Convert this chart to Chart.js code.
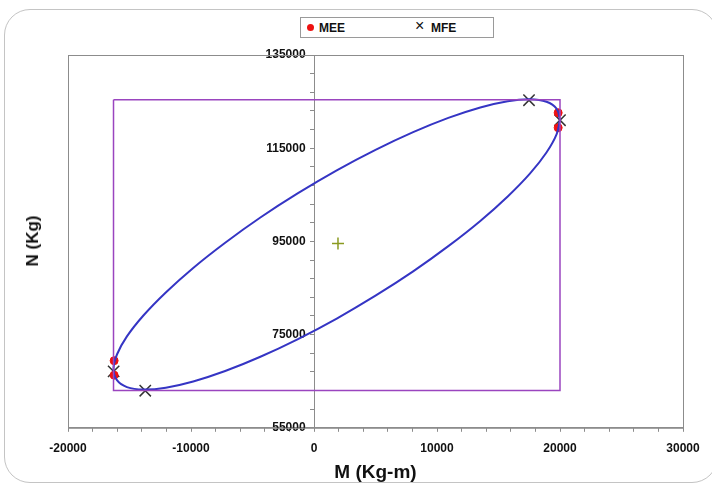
<!DOCTYPE html>
<html>
<head>
<meta charset="utf-8">
<script src="https://cdn.jsdelivr.net/npm/chart.js@4.4.0/dist/chart.umd.min.js"></script>
<style>
  body { margin: 0; background: #fff; }
  #wrap { position: relative; width: 712px; height: 485px; overflow: hidden; }
  #frame { position: absolute; left: 4px; top: 9px; width: 712px; height: 472px;
           border: 1.5px solid #c4c4c4; border-radius: 26px; }
  #legend { position: absolute; left: 300px; top: 17px; width: 192px; height: 19px;
            border: 1px solid #9a9a9a; background: #fff;
            font: bold 12px "Liberation Sans", Arial, sans-serif; color: #111; }
  #legend span { position: absolute; top: 3px; }
  .dot { width: 7px; height: 7px; border-radius: 50%; background: #ee1111; top: 6px !important; }
  #yTitle { position: absolute; left: 33px; top: 241px; transform: translate(-50%, -50%) rotate(-90deg);
            font: bold 17px "Liberation Sans", Arial, sans-serif; color: #111; white-space: nowrap; }
  canvas { position: absolute; left: 0; top: 0; }
</style>
</head>
<body>
<div id="wrap">
  <div id="frame"></div>
  <canvas id="myChart" width="712" height="485"></canvas>
  <div id="legend">
    <span class="dot" style="left:6px"></span><span style="left:18px">MEE</span>
    <span style="left:114px; font-weight:normal; font-size:16px; top:-1px">&times;</span><span style="left:130px">MFE</span>
  </div>
  <div id="yTitle">N (Kg)</div>
</div>
<script>
// interaction diagram values
const ellipseM = [20000, 19720, 18900, 17570, 15750, 13520, 10920, 8060, 5000, 1850, -1300, -4360, -7220, -9820, -12050, -13870, -15210, -16020, -16300, -16020, -15210, -13870, -12050, -9820, -7220, -4360, -1300, 1850, 5000, 8060, 10920, 13520, 15750, 17570, 18900, 19720, 20000];
const ellipseN = [121140, 123490, 124960, 125500, 125090, 123750, 121510, 118450, 114650, 110250, 105350, 100130, 94720, 89310, 84050, 79100, 74610, 70730, 67560, 65210, 63740, 63200, 63610, 64950, 67190, 70250, 74050, 78450, 83350, 88570, 93980, 99390, 104650, 109600, 114090, 117970, 121140];

const rectM = [-16300, 20000, 20000, -16300, -16300];
const rectN = [125400, 125400, 63000, 63000, 125400];

const meeM = [19850, 19850, -16250, -16250];
const meeN = [122600, 119400, 69400, 66300];

const mfeM = [17480, 20000, -16290, -13720];
const mfeN = [125300, 121000, 67100, 62960];

const centerM = [1950];
const centerN = [94570];

const toPts = (xs, ys) => xs.map((x, i) => ({ x: x, y: ys[i] }));

const font = { family: '"Liberation Sans", Arial, sans-serif', weight: 'bold', size: 12 };

// plot area border
const plotFrame = {
    id: 'plotFrame',
    beforeDatasetsDraw(chart) {
        const a = chart.chartArea, c = chart.ctx;
        c.save();
        c.strokeStyle = '#8c8c8c';
        c.lineWidth = 1;
        c.strokeRect(a.left + 0.5, a.top + 0.5, a.right - a.left, a.bottom - a.top);
        c.restore();
    }
};

const ctx = document.getElementById('myChart').getContext('2d');
const myChart = new Chart(ctx, {
    type: 'scatter',
    data: {
        datasets: [
            { label: 'rect', data: toPts(rectM, rectN), showLine: true, borderColor: '#9a45bf', borderWidth: 1.5, pointRadius: 0, tension: 0 },
            { label: 'ellipse', data: toPts(ellipseM, ellipseN), showLine: true, borderColor: '#3535c4', borderWidth: 2, pointRadius: 0, tension: 0.4 },
            { label: 'center', data: toPts(centerM, centerN), pointStyle: 'cross', pointRadius: 6, borderColor: '#8a9a20', borderWidth: 1.5 },
            { label: 'MEE', data: toPts(meeM, meeN), pointStyle: 'circle', pointRadius: 4, backgroundColor: '#ee1111', borderColor: '#ee1111' },
            { label: 'MFE', data: toPts(mfeM, mfeN), pointStyle: 'crossRot', pointRadius: 8, borderColor: '#333333', borderWidth: 1.5 }
        ]
    },
    options: {
        responsive: false,
        animation: false,
        layout: { padding: { left: 68, right: 29, top: 55, bottom: 1 } },
        plugins: { legend: { display: false }, tooltip: { enabled: false } },
        scales: {
            x: {
                min: -20000, max: 30000,
                border: { color: '#8c8c8c' },
                grid: { drawOnChartArea: false, drawTicks: true, tickLength: 4, color: '#8c8c8c' },
                ticks: {
                    stepSize: 2000, autoSkip: false, maxRotation: 0, color: '#111', font: font, padding: 10,
                    callback: v => (v % 10000 === 0 ? String(v) : '')
                },
                title: { display: true, text: 'M (Kg-m)', color: '#111', padding: { top: -5, bottom: 0 },
                         font: { family: font.family, weight: 'bold', size: 19 } }
            },
            y: {
                min: 55000, max: 135000,
                position: { x: 0 },
                border: { color: '#8c8c8c' },
                grid: { drawOnChartArea: false, drawTicks: true, tickLength: 4, color: '#8c8c8c' },
                ticks: {
                    stepSize: 4000, autoSkip: false, color: '#111', font: font, padding: 6,
                    // axis sits inside the plot, so keep a small gap with spaces
                    callback: v => ((v - 55000) % 20000 === 0 ? String(v) + '\u2002\u2009' : '')
                }
            }
        }
    },
    plugins: [plotFrame]
});
</script>
</body>
</html>
